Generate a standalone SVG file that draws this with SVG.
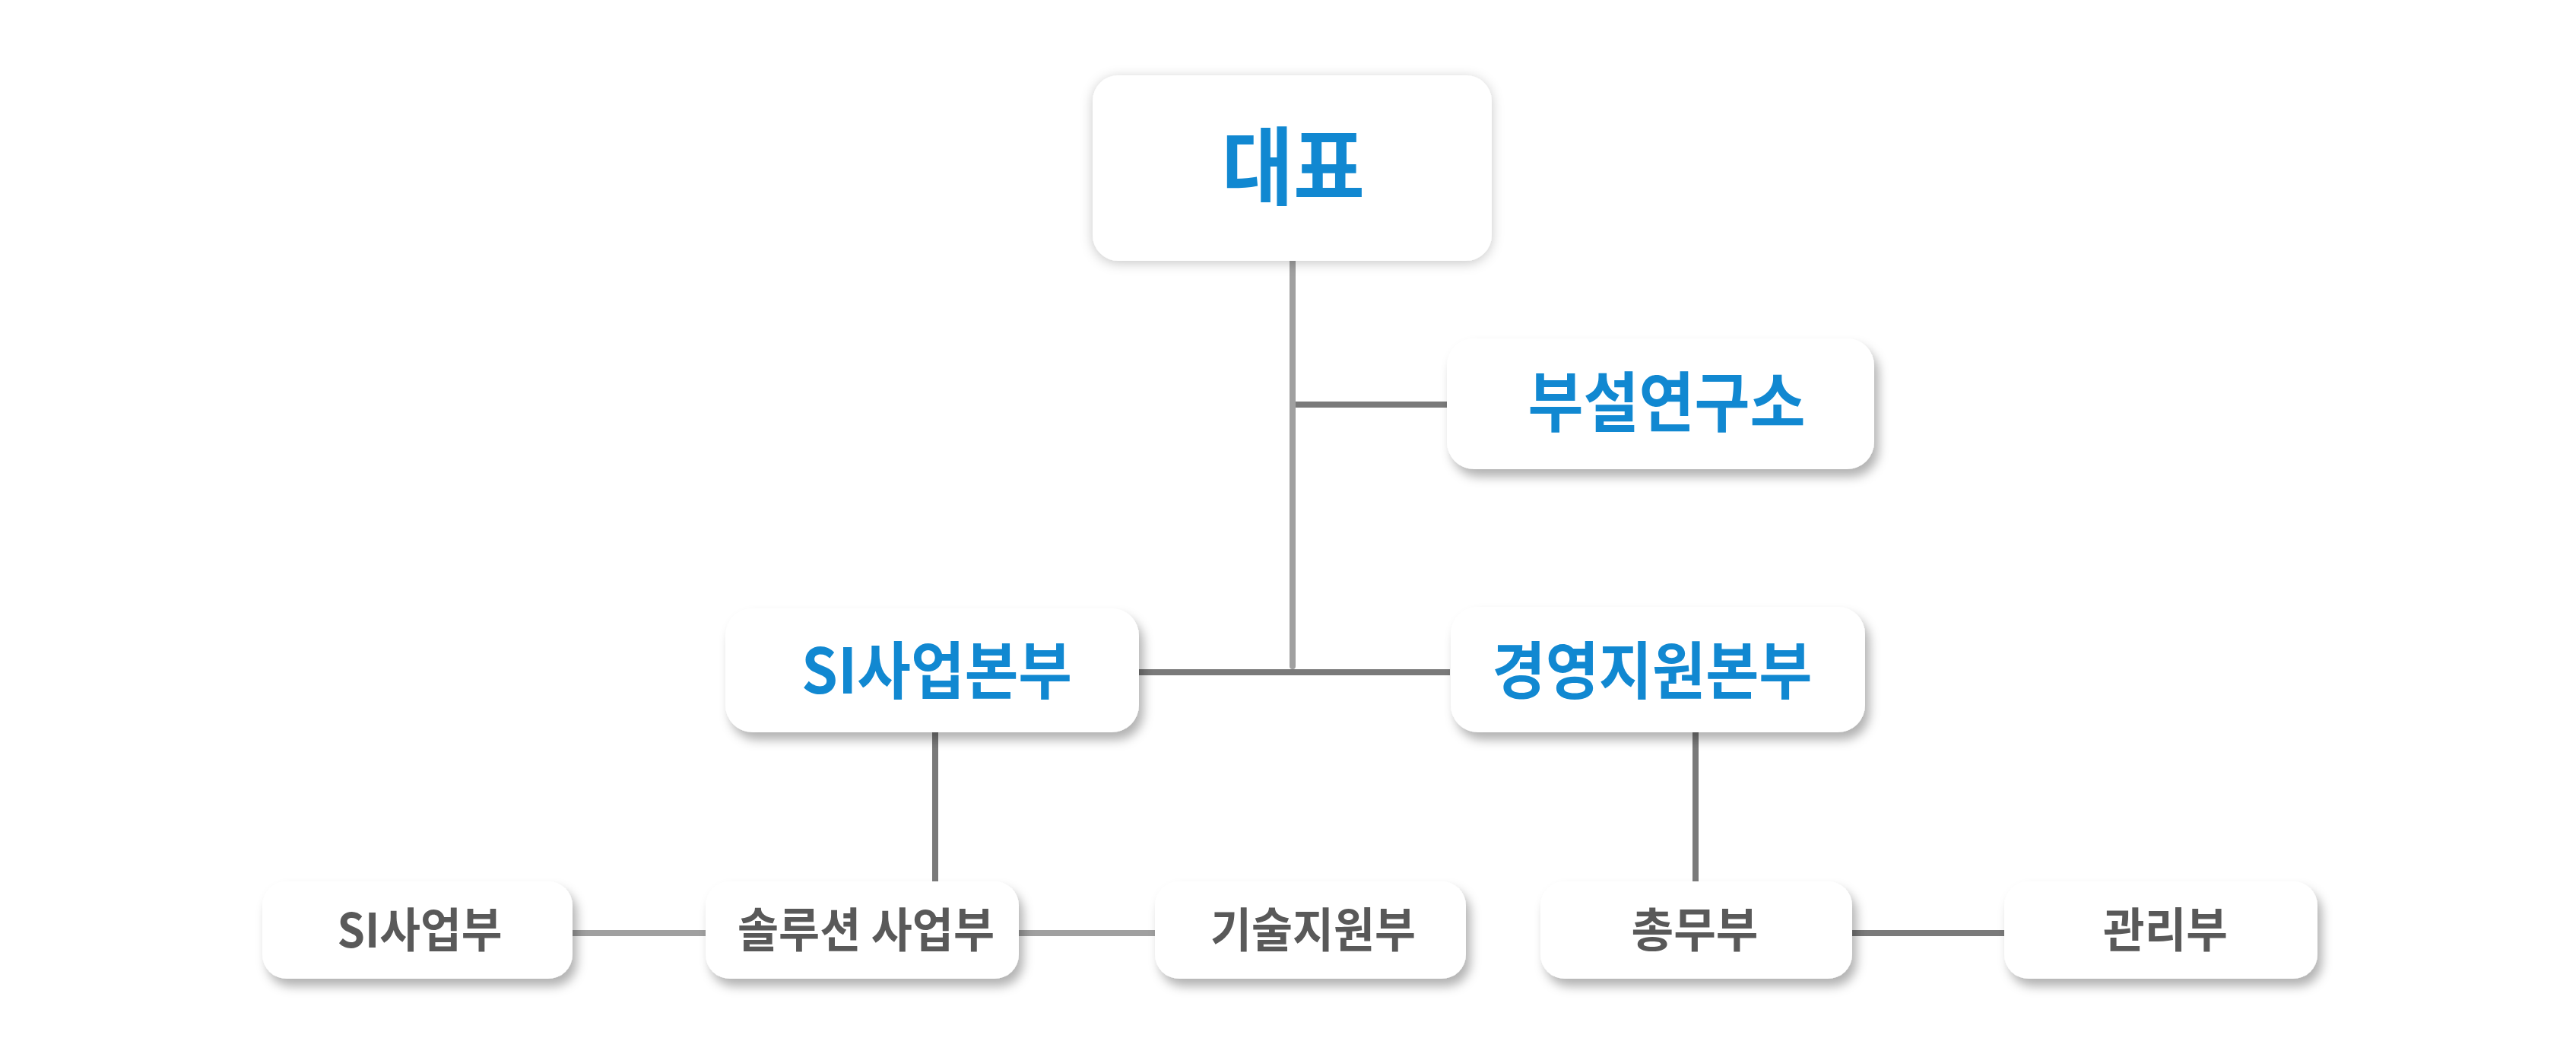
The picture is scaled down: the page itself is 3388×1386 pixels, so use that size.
<svg xmlns="http://www.w3.org/2000/svg" width="3388" height="1386" viewBox="0 0 3388 1386">
<style>
.box{fill:#ffffff}
.t1{font-family:"Noto Sans CJK KR","Noto Sans",sans-serif;font-weight:700;fill:#1188d1;text-anchor:middle}
.t2{font-family:"Noto Sans CJK KR","Noto Sans",sans-serif;font-weight:700;fill:#595959;text-anchor:middle}
.dark{stroke:#7a7a7a;stroke-width:8;fill:none}
.light{stroke:#a0a0a0;stroke-width:8;fill:none}
</style>
<defs>
<filter id="shTop" x="-20%" y="-30%" width="140%" height="160%">
<feDropShadow dx="0" dy="3" stdDeviation="8" flood-color="#000" flood-opacity="0.22"/>
</filter>
<filter id="sh" x="-20%" y="-30%" width="140%" height="170%">
<feDropShadow dx="6" dy="10" stdDeviation="7" flood-color="#000" flood-opacity="0.3"/>
</filter>
</defs>
<rect width="3388" height="1386" fill="#ffffff"/>
<g id="connectors">
<line class="light" x1="1700" y1="343" x2="1700" y2="876" stroke-linecap="round"/>
<line class="dark" x1="1704" y1="532" x2="1905" y2="532"/>
<line class="dark" x1="1498" y1="884" x2="1907" y2="884"/>
<line class="dark" x1="1230" y1="963" x2="1230" y2="1159" stroke="#717171"/>
<line class="dark" x1="2230" y1="963" x2="2230" y2="1159" stroke="#717171"/>
<line class="light" x1="752" y1="1227" x2="929" y2="1227"/>
<line class="light" x1="1340" y1="1227" x2="1520" y2="1227"/>
<line class="dark" x1="2436" y1="1227" x2="2637" y2="1227"/>
</g>
<g id="node-ceo">
<rect class="box" x="1437" y="99" width="525" height="244" rx="34" filter="url(#shTop)"/>
<text class="t1" x="1701" y="261" font-size="112" textLength="188" lengthAdjust="spacingAndGlyphs">대표</text>
</g>
<g id="node-lab">
<rect class="box" x="1903" y="445" width="562" height="172" rx="36" filter="url(#sh)"/>
<text class="t1" x="2192" y="561" font-size="86" textLength="365" lengthAdjust="spacingAndGlyphs">부설연구소</text>
</g>
<g id="node-si-hq">
<rect class="box" x="954" y="800" width="544" height="163" rx="36" filter="url(#sh)"/>
<text class="t1" x="1232" y="912" font-size="82" textLength="356" lengthAdjust="spacingAndGlyphs">SI사업본부</text>
</g>
<g id="node-mgmt-hq">
<rect class="box" x="1908" y="798" width="545" height="165" rx="36" filter="url(#sh)"/>
<text class="t1" x="2173" y="912" font-size="82" textLength="421" lengthAdjust="spacingAndGlyphs">경영지원본부</text>
</g>
<g id="node-si">
<rect class="box" x="345" y="1159" width="408" height="128" rx="32" filter="url(#sh)"/>
<text class="t2" x="552" y="1246" font-size="62" textLength="217" lengthAdjust="spacingAndGlyphs">SI사업부</text>
</g>
<g id="node-solution">
<rect class="box" x="928" y="1159" width="412" height="128" rx="32" filter="url(#sh)"/>
<text class="t2" x="1139" y="1246" font-size="62" textLength="338" lengthAdjust="spacingAndGlyphs">솔루션 사업부</text>
</g>
<g id="node-tech">
<rect class="box" x="1519" y="1159" width="409" height="128" rx="32" filter="url(#sh)"/>
<text class="t2" x="1727" y="1246" font-size="62" textLength="270" lengthAdjust="spacingAndGlyphs">기술지원부</text>
</g>
<g id="node-general">
<rect class="box" x="2026" y="1159" width="410" height="128" rx="32" filter="url(#sh)"/>
<text class="t2" x="2229" y="1246" font-size="62" textLength="167" lengthAdjust="spacingAndGlyphs">총무부</text>
</g>
<g id="node-admin">
<rect class="box" x="2636" y="1159" width="412" height="128" rx="32" filter="url(#sh)"/>
<text class="t2" x="2848" y="1246" font-size="62" textLength="164" lengthAdjust="spacingAndGlyphs">관리부</text>
</g>
</svg>
